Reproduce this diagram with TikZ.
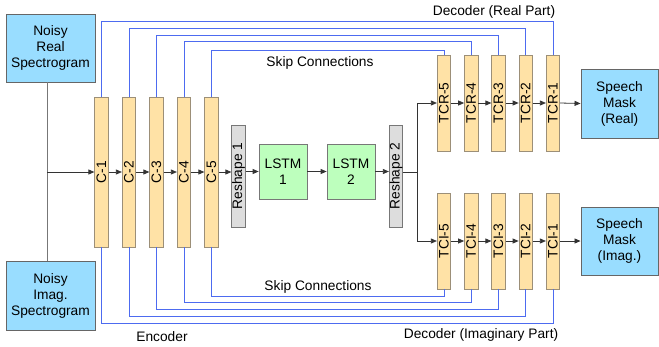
\documentclass[tikz,border=0pt]{standalone}
\usepackage{fontspec}
\usepackage{graphicx}
\setmainfont{Liberation Sans}
\usetikzlibrary{arrows.meta}

\definecolor{inblue}{HTML}{99DDFF}
\definecolor{boxedge}{HTML}{666666}
\definecolor{layerfill}{HTML}{FFE2A6}
\definecolor{layeredge}{HTML}{9C8F78}
\definecolor{lstmfill}{HTML}{BDFFBD}
\definecolor{reshfill}{HTML}{DDDDDD}
\definecolor{skipblue}{HTML}{4D6BF0}
\definecolor{flowgray}{HTML}{777777}

\tikzset{
  lbl/.style={font=\fontsize{13.75}{16}\selectfont, inner sep=0pt},
  iobox/.style={lbl, draw=boxedge, fill=inblue, line width=0.9pt, align=center},
  layer/.style={lbl, draw=layeredge, fill=layerfill, line width=0.7pt,
                minimum width=13.5pt, minimum height=150pt},
  declayer/.style={layer, minimum height=96pt},
  reshbox/.style={lbl, draw=flowgray, fill=reshfill, line width=0.7pt,
                  minimum width=13.5pt, minimum height=102pt},
  lstmbox/.style={lbl, draw=flowgray, fill=lstmfill, line width=0.7pt,
                  minimum width=48pt, minimum height=55pt, align=center},
  flow/.style={draw=black!80, line width=0.8pt,
               -{Triangle[length=6pt,width=5pt]}},
  feed/.style={draw=flowgray, line width=0.9pt},
  skip/.style={draw=skipblue, line width=0.9pt},
}

\begin{document}
\begin{tikzpicture}[x=1pt,y=-1pt]
\useasboundingbox (0,0) rectangle (659,346);

% inputs and outputs
\node[iobox, minimum width=89pt, minimum height=68pt] (nr) at (50.5,48) {Noisy\\Real\\Spectrogram};
\node[iobox, minimum width=89pt, minimum height=69pt] (ni) at (50.5,295.5) {Noisy\\Imag.\\Spectrogram};
\node[iobox, minimum width=77pt, minimum height=69pt] (smr) at (619.5,103.5) {Speech\\Mask\\(Real)};
\node[iobox, minimum width=77pt, minimum height=68pt] (smi) at (619.5,241) {Speech\\Mask\\(Imag.)};

% encoder layers
\node[layer] (c1) at (101.5,172) {\rotatebox{90}{C-1}};
\node[layer] (c2) at (129,172) {\rotatebox{90}{C-2}};
\node[layer] (c3) at (156.5,172) {\rotatebox{90}{C-3}};
\node[layer] (c4) at (184,172) {\rotatebox{90}{C-4}};
\node[layer] (c5) at (211.5,172) {\rotatebox{90}{C-5}};

% bottleneck
\node[reshbox] (rs1) at (238.5,176) {\rotatebox{90}{Reshape 1}};
\node[lstmbox] (l1) at (283,171.5) {LSTM\\1};
\node[lstmbox] (l2) at (351,171.5) {LSTM\\2};
\node[reshbox] (rs2) at (396,176) {\rotatebox{90}{Reshape 2}};

% decoder layers (real part)
\node[declayer] (r5) at (444,103) {\rotatebox{90}{TCR-5}};
\node[declayer] (r4) at (471.25,103) {\rotatebox{90}{TCR-4}};
\node[declayer] (r3) at (498.5,103) {\rotatebox{90}{TCR-3}};
\node[declayer] (r2) at (525.75,103) {\rotatebox{90}{TCR-2}};
\node[declayer] (r1) at (553,103) {\rotatebox{90}{TCR-1}};

% decoder layers (imaginary part)
\node[declayer] (i5) at (444,241) {\rotatebox{90}{TCI-5}};
\node[declayer] (i4) at (471.25,241) {\rotatebox{90}{TCI-4}};
\node[declayer] (i3) at (498.5,241) {\rotatebox{90}{TCI-3}};
\node[declayer] (i2) at (525.75,241) {\rotatebox{90}{TCI-2}};
\node[declayer] (i1) at (553,241) {\rotatebox{90}{TCI-1}};

% input feed
\coordinate (join) at (47,172);
\draw[feed] (join |- nr.south) -- (join |- ni.north);
\draw[flow] (join) -- (c1.west);

% encoder chain and bottleneck
\draw[flow] (c1.east) -- (c2.west);
\draw[flow] (c2.east) -- (c3.west);
\draw[flow] (c3.east) -- (c4.west);
\draw[flow] (c4.east) -- (c5.west);
\draw[flow] (c5.east) -- (c5.east -| rs1.west);
\draw[flow] (rs1.east |- l1.west) -- (l1.west);
\draw[flow] (l1.east) -- (l2.west);
\draw[flow] (l2.east) -- (l2.east -| rs2.west);

% split into both decoders
\coordinate (split) at (417,172);
\draw[draw=black!80, line width=0.8pt] (rs2.east |- split) -- (split);
\draw[flow] (split) |- (r5.west);
\draw[flow] (split) |- (i5.west);

% decoder chains
\draw[flow] (r5.east) -- (r4.west);
\draw[flow] (r4.east) -- (r3.west);
\draw[flow] (r3.east) -- (r2.west);
\draw[flow] (r2.east) -- (r1.west);
\draw[flow] (r1.east) -- (smr.west);
\draw[flow] (i5.east) -- (i4.west);
\draw[flow] (i4.east) -- (i3.west);
\draw[flow] (i3.east) -- (i2.west);
\draw[flow] (i2.east) -- (i1.west);
\draw[flow] (i1.east) -- (smi.west);

% skip connections to the real decoder
\draw[skip] (c1.north) |- (r1.north |- 0,21) -- (r1.north);
\draw[skip] (c2.north) |- (r2.north |- 0,28) -- (r2.north);
\draw[skip] (c3.north) |- (r3.north |- 0,35) -- (r3.north);
\draw[skip] (c4.north) |- (r4.north |- 0,41.5) -- (r4.north);
\draw[skip] (c5.north) |- (r5.north |- 0,50) -- (r5.north);

% skip connections to the imaginary decoder
\draw[skip] (c1.south) |- (i1.south |- 0,323) -- (i1.south);
\draw[skip] (c2.south) |- (i2.south |- 0,316) -- (i2.south);
\draw[skip] (c3.south) |- (i3.south |- 0,309) -- (i3.south);
\draw[skip] (c4.south) |- (i4.south |- 0,302.5) -- (i4.south);
\draw[skip] (c5.south) |- (i5.south |- 0,296) -- (i5.south);

% captions
\node[lbl] (tdr) at (494,11.5) {Decoder (Real Part)};
\node[lbl] (tst) at (320,63) {Skip Connections};
\node[lbl] (tsb) at (318,287) {Skip Connections};
\node[lbl] (tenc) at (162,337) {Encoder};
\node[lbl] (tdi) at (481,335) {Decoder (Imaginary Part)};
\end{tikzpicture}
\end{document}
